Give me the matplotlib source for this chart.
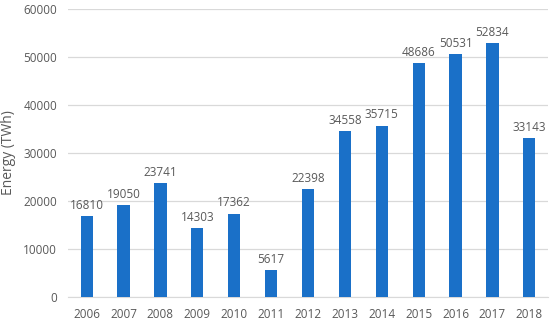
import matplotlib
matplotlib.use("Agg")
import matplotlib.pyplot as plt

years = ["2006", "2007", "2008", "2009", "2010", "2011", "2012",
         "2013", "2014", "2015", "2016", "2017", "2018"]
energy = [16810, 19050, 23741, 14303, 17362, 5617, 22398,
          34558, 35715, 48686, 50531, 52834, 33143]

plt.rcParams['font.family'] = ['Open Sans', 'DejaVu Sans']
grey = '#595959'

fig = plt.figure(figsize=(5.5, 3.22), dpi=100)
ax = fig.add_axes([0.124, 0.078, 0.872, 0.894])

x = range(len(years))
bars = ax.bar(x, energy, width=0.33, color='#1a70c8', zorder=3)
for xi, v in zip(x, energy):
    ax.text(xi, v + 900, str(v), ha='center', va='bottom', fontsize=8.5, color=grey)

ax.set_xlim(-0.5, 12.5)
ax.set_ylim(0, 60000)
ax.set_yticks(range(0, 60001, 10000))
ax.set_xticks(list(x))
ax.set_xticklabels(years)
ax.yaxis.grid(True, color='#d9d9d9', linewidth=0.9, zorder=0)
ax.tick_params(axis='both', length=0, labelsize=8.5, labelcolor=grey, pad=8)
for s in ['top', 'right', 'left']:
    ax.spines[s].set_visible(False)
ax.spines['bottom'].set_color('#d9d9d9')
ax.set_ylabel('Energy (TWh)', fontsize=10, color=grey, labelpad=5)

fig.savefig('out.png', dpi=100)
